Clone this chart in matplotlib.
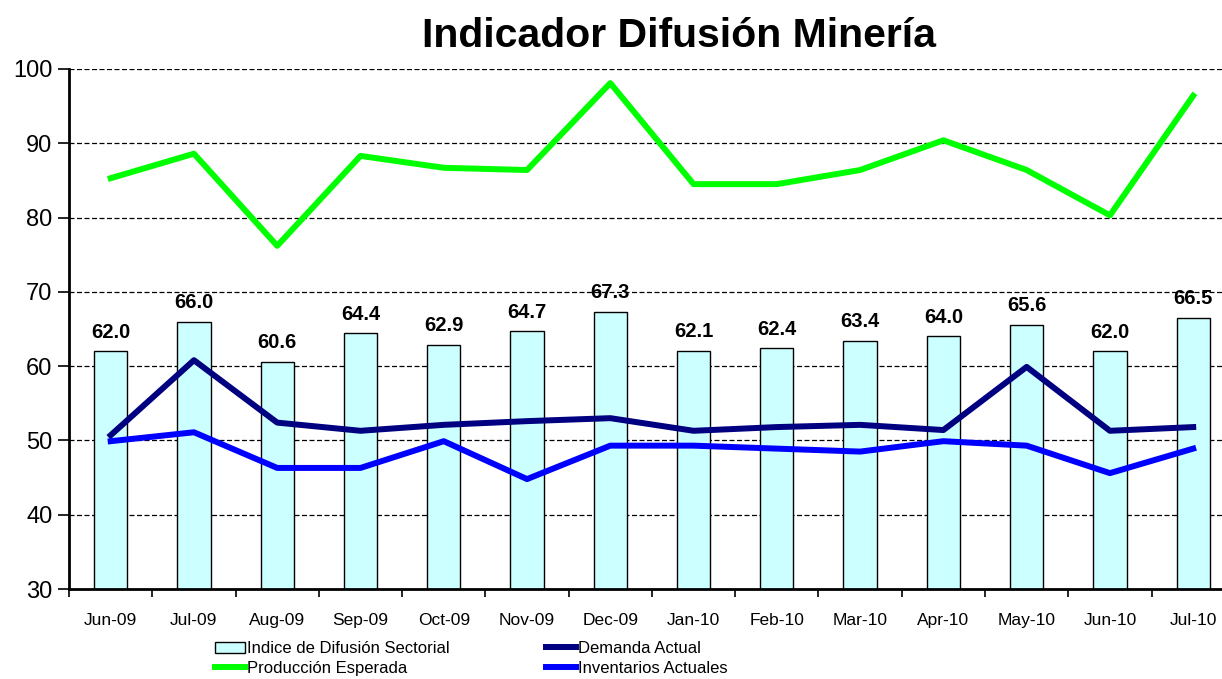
import matplotlib.pyplot as plt
import numpy as np
from matplotlib import font_manager

# data
meses = ["Jun-09", "Jul-09", "Aug-09", "Sep-09", "Oct-09", "Nov-09", "Dec-09",
         "Jan-10", "Feb-10", "Mar-10", "Apr-10", "May-10", "Jun-10", "Jul-10"]
indice = [62.0, 66.0, 60.6, 64.4, 62.9, 64.7, 67.3, 62.1, 62.4, 63.4, 64.0, 65.6, 62.0, 66.5]
produccion = [85.3, 88.6, 76.2, 88.3, 86.7, 86.4, 98.1, 84.5, 84.5, 86.4, 90.4, 86.4, 80.3, 96.4]
demanda = [50.7, 60.8, 52.4, 51.3, 52.1, 52.6, 53.0, 51.3, 51.8, 52.1, 51.4, 59.9, 51.3, 51.8]
inventarios = [49.9, 51.1, 46.3, 46.3, 49.9, 44.8, 49.3, 49.3, 48.9, 48.5, 49.9, 49.3, 45.6, 48.9]

plt.rcParams['font.family'] = ['Liberation Sans', 'DejaVu Sans']
names = {f.name for f in font_manager.fontManager.ttflist}
narrow = 'Liberation Sans Narrow' in names
legend_font = 'Liberation Sans Narrow' if narrow else 'Liberation Sans'
legend_size = 13 if narrow else 12

fig = plt.figure(figsize=(12.22, 6.79), dpi=100)
ax = fig.add_axes([0.0565, 0.1325, 0.954, 0.7659])

x = np.arange(len(meses))
bars = ax.bar(x, indice, width=0.4, color='#CCFFFF', edgecolor='black', linewidth=1,
              label='Indice de Difusión Sectorial', zorder=2)
l_prod, = ax.plot(x, produccion, color='#00FF00', lw=4.3, label='Producción Esperada', zorder=3)
l_dem, = ax.plot(x, demanda, color='#000080', lw=4.3, label='Demanda Actual', zorder=3)
l_inv, = ax.plot(x, inventarios, color='#0000FF', lw=4.3, label='Inventarios Actuales', zorder=3)

# bar value labels
for xi, v in zip(x, indice):
    ax.annotate(f"{v:.1f}", (xi, v), xytext=(0, 7), textcoords='offset points',
                ha='center', va='bottom', fontsize=14.5, fontweight='bold')

ax.set_xlim(-0.5, len(meses) - 0.5)
ax.set_ylim(30, 100)
ax.set_yticks(range(30, 101, 10))
ax.tick_params(axis='y', labelsize=17, length=8, width=1.2, direction='out', pad=4)
ax.set_xticks(x)
ax.set_xticklabels(meses, fontsize=12.5)
ax.tick_params(axis='x', which='major', length=0, pad=17)
ax.set_xticks(np.arange(-0.5, len(meses)), minor=True)
ax.tick_params(axis='x', which='minor', length=6, width=1.2, direction='out')

ax.set_axisbelow(True)
for yv in range(40, 101, 10):
    ax.axhline(yv, color='black', lw=0.9, ls=(0, (4, 2)), zorder=1)

ax.spines['top'].set_visible(False)
ax.spines['right'].set_visible(False)
ax.spines['left'].set_linewidth(2)
ax.spines['bottom'].set_linewidth(2)

fig.text(0.556, 0.947, "Indicador Difusión Minería", ha='center', va='center',
         fontsize=29.5, fontweight='bold')

fig.legend([bars, l_prod, l_dem, l_inv],
           ['Indice de Difusión Sectorial', 'Producción Esperada',
            'Demanda Actual', 'Inventarios Actuales'],
           ncol=2, loc='lower left', bbox_to_anchor=(0.176, 0.004),
           frameon=False, prop={'family': legend_font, 'size': legend_size},
           handlelength=1.8, handletextpad=0.12, columnspacing=5.8,
           labelspacing=0.3, borderpad=0, borderaxespad=0)

fig.savefig("out.png", dpi=100)
